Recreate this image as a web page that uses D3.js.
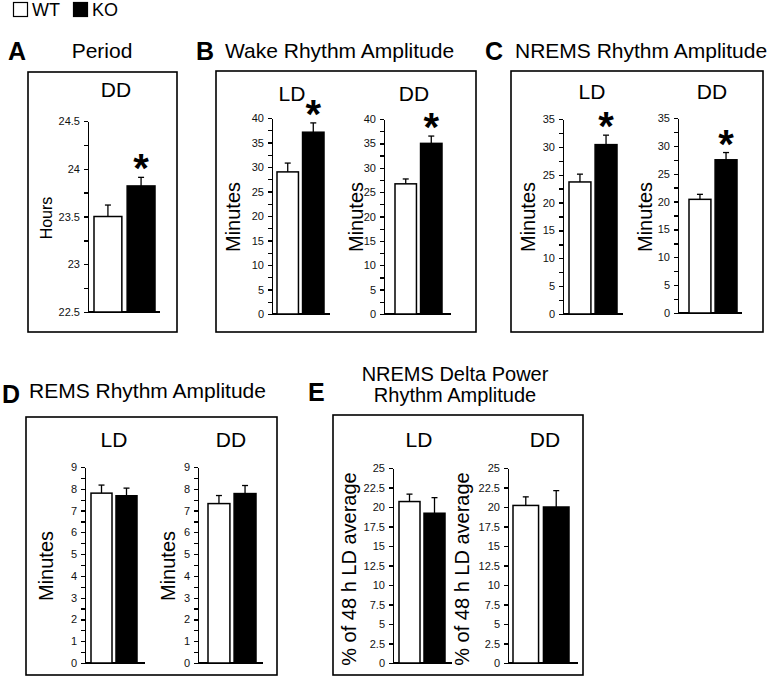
<!DOCTYPE html>
<html>
<head>
<meta charset="utf-8">
<script src="https://cdn.jsdelivr.net/npm/d3@7"></script>
<style>
body { margin: 0; background: #fff; }
svg { display: block; font-family: "Liberation Sans", Arial, Helvetica, sans-serif; }
.axis path, .axis line { stroke: #000; stroke-width: 1.3; shape-rendering: crispEdges; }
.axis text { font-size: 11px; fill: #111; font-family: "Liberation Sans", Arial, sans-serif; }
</style>
</head>
<body>
<div id="chart"></div>
<script>
var groups = ["WT", "KO"];

// group means and error bars
var periodDD = [23.5, 23.82],  periodDDErr = [0.12, 0.09];
var wakeLD   = [29.0, 37.1],   wakeLDErr   = [1.8, 1.9];
var wakeDD   = [26.7, 35.0],   wakeDDErr   = [1.0, 1.5];
var nremLD   = [23.7, 30.4],   nremLDErr   = [1.4, 1.7];
var nremDD   = [20.4, 27.5],   nremDDErr   = [0.9, 1.3];
var remLD    = [7.8, 7.68],    remLDErr    = [0.37, 0.35];
var remDD    = [7.32, 7.78],   remDDErr    = [0.37, 0.37];
var deltaLD  = [20.7, 19.2],   deltaLDErr  = [0.95, 2.0];
var deltaDD  = [20.2, 20.0],   deltaDDErr  = [1.1, 2.1];

// significance marks (KO vs WT)
var periodSig = [false, true];
var wakeSig   = [false, true];
var nremSig   = [false, true];
var noSig     = [false, false];

// tick labels
var hoursTicks = [22.5, 23, 23.5, 24, 24.5];
var wakeTicks  = [0, 5, 10, 15, 20, 25, 30, 35, 40];
var nremTicks  = [0, 5, 10, 15, 20, 25, 30, 35];
var remTicks   = [0, 1, 2, 3, 4, 5, 6, 7, 8, 9];
var deltaTicks = [0, 2.5, 5, 7.5, 10, 12.5, 15, 17.5, 20, 22.5, 25];

var width = 773, height = 677;

var svg = d3.select("#chart").append("svg")
    .attr("width", width)
    .attr("height", height);

svg.append("rect").attr("width", width).attr("height", height).attr("fill", "#fff");

// legend
var legend = [{name: "WT", x: 13, fill: "#fff"}, {name: "KO", x: 73, fill: "#000"}];
legend.forEach(function(l) {
  svg.append("rect")
    .attr("x", l.x + 0.5).attr("y", 2.5)
    .attr("width", 14).attr("height", 14)
    .attr("fill", l.fill).attr("stroke", "#000").attr("stroke-width", 1.2);
  svg.append("text")
    .attr("x", l.x + 19).attr("y", 16)
    .attr("font-size", 18)
    .text(l.name);
});

// panels: letter, title, frame
var panels = [
  {letter: "A", lx: 8,   ly: 60,  title: ["Period"], tx: 102, ty: 58, anchor: "middle", box: [28, 72, 177, 332]},
  {letter: "B", lx: 196, ly: 60,  title: ["Wake Rhythm Amplitude"], tx: 225, ty: 58, anchor: "start", box: [216, 71, 476, 332]},
  {letter: "C", lx: 485, ly: 60,  title: ["NREMS Rhythm Amplitude"], tx: 515, ty: 58, anchor: "start", box: [511, 71, 763, 332]},
  {letter: "D", lx: 2,   ly: 403, title: ["REMS Rhythm Amplitude"], tx: 29, ty: 398, anchor: "start", box: [26, 417, 277, 675]},
  {letter: "E", lx: 308, ly: 401, title: ["NREMS Delta Power", "Rhythm Amplitude"], tx: 455, ty: 381, anchor: "middle", box: [333, 415, 583, 675]}
];

panels.forEach(function(p) {
  svg.append("text")
    .attr("x", p.lx).attr("y", p.ly)
    .attr("font-size", 25).attr("font-weight", "bold")
    .text(p.letter);
  p.title.forEach(function(t, i) {
    svg.append("text")
      .attr("x", p.tx).attr("y", p.ty + i * 21)
      .attr("text-anchor", p.anchor)
      .attr("font-size", p.title.length > 1 ? 20 : 21)
      .text(t);
  });
  svg.append("rect")
    .attr("x", p.box[0]).attr("y", p.box[1])
    .attr("width", p.box[2] - p.box[0]).attr("height", p.box[3] - p.box[1])
    .attr("fill", "none").attr("stroke", "#000").attr("stroke-width", 1.6);
});

// sub charts
var charts = [
  {head: "DD", hx: 116, hy: 97,  means: periodDD, errs: periodDDErr, sig: periodSig, domain: [22.5, 24.5], ticks: hoursTicks, minor: 0.25,
   ax: 88,  x0: 94,  x1: 155, xEnd: 160, top: 121, bottom: 312, label: "Hours", labX: 52, labY: 218, labSize: 16},
  {head: "LD", hx: 292, hy: 101, means: wakeLD, errs: wakeLDErr, sig: wakeSig, domain: [0, 40], ticks: wakeTicks, minor: 2.5,
   ax: 272, x0: 277, x1: 324, xEnd: 330, top: 118, bottom: 314, label: "Minutes", labX: 240, labY: 217, labSize: 20},
  {head: "DD", hx: 414, hy: 101, means: wakeDD, errs: wakeDDErr, sig: wakeSig, domain: [0, 40], ticks: wakeTicks, minor: 2.5,
   ax: 384, x0: 395, x1: 442, xEnd: 451, top: 119, bottom: 314, label: "Minutes", labX: 363, labY: 217, labSize: 20},
  {head: "LD", hx: 592, hy: 99,  means: nremLD, errs: nremLDErr, sig: nremSig, domain: [0, 35], ticks: nremTicks, minor: 2.5,
   ax: 563, x0: 569, x1: 617, xEnd: 623, top: 119, bottom: 314, label: "Minutes", labX: 535, labY: 217, labSize: 20},
  {head: "DD", hx: 712, hy: 99,  means: nremDD, errs: nremDDErr, sig: nremSig, domain: [0, 35], ticks: nremTicks, minor: 2.5,
   ax: 678, x0: 689, x1: 737, xEnd: 742, top: 118, bottom: 313, label: "Minutes", labX: 652, labY: 217, labSize: 20},
  {head: "LD", hx: 114, hy: 447, means: remLD, errs: remLDErr, sig: noSig, domain: [0, 9], ticks: remTicks, minor: 0.5,
   ax: 85,  x0: 91,  x1: 137, xEnd: 145, top: 467, bottom: 663, label: "Minutes", labX: 53, labY: 566, labSize: 20},
  {head: "DD", hx: 231, hy: 447, means: remDD, errs: remDDErr, sig: noSig, domain: [0, 9], ticks: remTicks, minor: 0.5,
   ax: 198, x0: 208, x1: 256, xEnd: 263, top: 467, bottom: 663, label: "Minutes", labX: 175, labY: 566, labSize: 20},
  {head: "LD", hx: 419, hy: 447, means: deltaLD, errs: deltaLDErr, sig: noSig, domain: [0, 25], ticks: deltaTicks, minor: null,
   ax: 393, x0: 399, x1: 445, xEnd: 452, top: 468, bottom: 663, label: "% of 48 h LD average", labX: 356, labY: 569, labSize: 20},
  {head: "DD", hx: 545, hy: 447, means: deltaDD, errs: deltaDDErr, sig: noSig, domain: [0, 25], ticks: deltaTicks, minor: null,
   ax: 508, x0: 513, x1: 569, xEnd: 578, top: 468, bottom: 663, label: "% of 48 h LD average", labX: 469, labY: 569, labSize: 20}
];

charts.forEach(function(c) {
  var y = d3.scaleLinear().domain(c.domain).range([c.bottom, c.top]);
  var x = d3.scaleBand().domain(groups).range([c.x0, c.x1]).paddingInner(0.16);

  var rows = groups.map(function(g, i) {
    return {group: g, mean: c.means[i], err: c.errs[i], sig: c.sig[i]};
  });

  var allTicks = c.ticks.slice();
  if (c.minor) {
    allTicks = d3.range(c.domain[0], c.domain[1] + 1e-9, c.minor);
  }
  var yAxis = d3.axisLeft(y)
    .tickValues(allTicks)
    .tickSize(4)
    .tickSizeOuter(0)
    .tickPadding(4)
    .tickFormat(function(d) {
      return c.ticks.some(function(t) { return Math.abs(t - d) < 1e-9; }) ? d3.format("")(d) : "";
    });

  svg.append("g")
    .attr("class", "axis")
    .attr("transform", "translate(" + c.ax + ",0)")
    .call(yAxis);

  // baseline
  svg.append("line")
    .attr("x1", c.ax).attr("x2", c.xEnd)
    .attr("y1", y(c.domain[0])).attr("y2", y(c.domain[0]))
    .attr("stroke", "#000").attr("stroke-width", 1.3)
    .attr("shape-rendering", "crispEdges");

  // error bars (upper only)
  var eb = svg.append("g").selectAll("g").data(rows).enter().append("g");
  eb.append("line")
    .attr("x1", function(d) { return x(d.group) + x.bandwidth() / 2; })
    .attr("x2", function(d) { return x(d.group) + x.bandwidth() / 2; })
    .attr("y1", function(d) { return y(d.mean); })
    .attr("y2", function(d) { return y(d.mean + d.err); })
    .attr("stroke", "#000").attr("stroke-width", 1.3);
  eb.append("line")
    .attr("x1", function(d) { return x(d.group) + x.bandwidth() / 2 - 3; })
    .attr("x2", function(d) { return x(d.group) + x.bandwidth() / 2 + 3; })
    .attr("y1", function(d) { return y(d.mean + d.err); })
    .attr("y2", function(d) { return y(d.mean + d.err); })
    .attr("stroke", "#000").attr("stroke-width", 1.3);

  svg.append("g").selectAll("rect").data(rows).enter().append("rect")
    .attr("x", function(d) { return x(d.group); })
    .attr("y", function(d) { return y(d.mean); })
    .attr("width", x.bandwidth())
    .attr("height", function(d) { return y(c.domain[0]) - y(d.mean); })
    .attr("fill", function(d) { return d.group == "KO" ? "#000" : "#fff"; })
    .attr("stroke", "#000").attr("stroke-width", 1.5);

  // asterisks, a few pixels above the error bar
  svg.append("g").selectAll("text").data(rows.filter(function(d) { return d.sig; })).enter().append("text")
    .attr("x", function(d) { return x(d.group) + x.bandwidth() / 2; })
    .attr("y", function(d) { return y(d.mean + d.err) + 5; })
    .attr("text-anchor", "middle")
    .attr("font-size", 40).attr("font-weight", "bold")
    .text("*");

  svg.append("text")
    .attr("x", c.hx).attr("y", c.hy)
    .attr("text-anchor", "middle")
    .attr("font-size", 21)
    .text(c.head);

  svg.append("text")
    .attr("transform", "translate(" + c.labX + "," + c.labY + ") rotate(-90)")
    .attr("text-anchor", "middle")
    .attr("font-size", c.labSize)
    .text(c.label);
});
</script>
</body>
</html>
